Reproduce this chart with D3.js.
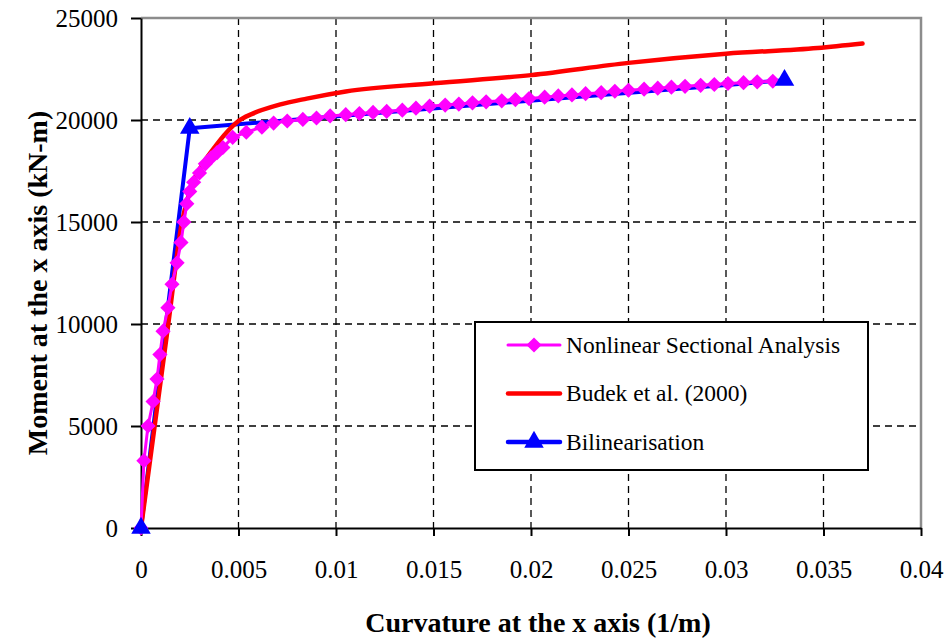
<!DOCTYPE html>
<html>
<head>
<meta charset="utf-8">
<script src="https://cdn.jsdelivr.net/npm/d3@7"></script>
<style>
  html, body { margin: 0; padding: 0; background: #fff; }
  svg { display: block; font-family: "Liberation Serif", "Times New Roman", serif; }
  .grid line { stroke: #000; stroke-width: 1.3; stroke-dasharray: 7 5; }
  .axis text { font-size: 25px; fill: #000; font-family: "Liberation Serif", "Times New Roman", serif; }
  .axis line, .axis path { stroke: #000; stroke-width: 2; }
  .title { font-size: 28px; font-weight: bold; }
  .legend text { font-size: 23.5px; }
</style>
</head>
<body>
<svg id="chart" width="945" height="638"></svg>
<script>
"use strict";

// Nonlinear Sectional Analysis (curvature 1/m, moment kN-m)
var nsaCurv = [0, 0.00015, 0.00036, 0.00062, 0.00082, 0.00097, 0.00113, 0.00138, 0.00159, 0.00185,
  0.00205, 0.0022, 0.00235, 0.0025, 0.0027, 0.0030, 0.0033, 0.0036, 0.0039, 0.0042,
  0.0047, 0.0054, 0.0062, 0.0068, 0.0075, 0.0083, 0.0090, 0.0097, 0.0105, 0.0112,
  0.0119, 0.0126, 0.0134, 0.0141, 0.0148, 0.0156, 0.0163, 0.0170, 0.0177, 0.0185,
  0.0192, 0.0199, 0.0207, 0.0214, 0.0221, 0.0228, 0.0236, 0.0243, 0.0250, 0.0258,
  0.0265, 0.0272, 0.0279, 0.0287, 0.0294, 0.0301, 0.0309, 0.0316, 0.0324];
var nsaMoment = [0, 3300, 5000, 6200, 7300, 8500, 9650, 10800, 11950, 13000,
  14000, 15000, 15900, 16500, 16950, 17400, 17850, 18150, 18400, 18650,
  19150, 19400, 19650, 19850, 19950, 20030, 20100, 20200, 20260, 20320,
  20370, 20420, 20480, 20580, 20680, 20730, 20780, 20840, 20890, 20940,
  21000, 21050, 21120, 21180, 21230, 21290, 21340, 21410, 21460, 21510,
  21560, 21610, 21650, 21700, 21740, 21790, 21830, 21870, 21900];

// Budek et al. (2000)
var budekCurv = [0, 0.0007, 0.0014, 0.0021, 0.0026, 0.0032, 0.0038, 0.0044, 0.0050, 0.0057,
  0.0071, 0.0085, 0.0105, 0.015, 0.02, 0.025, 0.03, 0.0347, 0.037];
var budekMoment = [0, 5000, 10000, 15000, 16800, 17900, 18700, 19400, 19950, 20300,
  20750, 21050, 21400, 21800, 22200, 22800, 23250, 23530, 23750];

// Bilinearisation
var biCurv = [0, 0.0025, 0.033];
var biMoment = [0, 19600, 21950];

var seriesNames = ["Nonlinear Sectional Analysis", "Budek et al. (2000)", "Bilinearisation"];
var seriesColors = ["#ff00ff", "#ff0000", "#0000ff"];

var xTicks = [0, 0.005, 0.01, 0.015, 0.02, 0.025, 0.03, 0.035, 0.04];
var xTickLabels = ["0", "0.005", "0.01", "0.015", "0.02", "0.025", "0.03", "0.035", "0.04"];
var yTicks = [0, 5000, 10000, 15000, 20000, 25000];

var xTitle = "Curvature at the x axis (1/m)";
var yTitle = "Moment at the x axis (kN-m)";

var d3 = window.d3;
var margin = {top: 18, left: 141};
var w = 780, h = 510;

var svg = d3.select("#chart");
var g = svg.append("g").attr("transform", "translate(" + margin.left + "," + margin.top + ")");

var x = d3.scaleLinear().domain([0, 0.04]).range([0, w]);
var y = d3.scaleLinear().domain([0, 25000]).range([h, 0]);

// dashed grid
var grid = g.append("g").classed("grid", true);
grid.selectAll("line.v").data(xTicks.slice(1, -1)).enter()
  .append("line").classed("v", true)
    .attr("x1", d => x(d)).attr("x2", d => x(d))
    .attr("y1", 0).attr("y2", h);
grid.selectAll("line.h").data(yTicks.slice(1, -1)).enter()
  .append("line").classed("h", true)
    .attr("x1", 0).attr("x2", w)
    .attr("y1", d => y(d)).attr("y2", d => y(d));

// plot area border (top / right grey)
g.append("path")
  .attr("d", "M0," + y(25000) + "H" + x(0.04) + "V" + y(0))
  .attr("fill", "none").attr("stroke", "#8c8c8c").attr("stroke-width", 2.5);

// axes
g.append("g").classed("axis", true)
  .attr("transform", "translate(0," + h + ")")
  .call(d3.axisBottom(x).tickValues(xTicks)
    .tickFormat((d, i) => xTickLabels[i])
    .tickSize(8).tickSizeOuter(0).tickPadding(24));

g.append("g").classed("axis", true)
  .call(d3.axisLeft(y).tickValues(yTicks)
    .tickFormat(d3.format("d"))
    .tickSize(10).tickSizeOuter(0).tickPadding(13));

svg.selectAll(".axis").attr("font-size", null).attr("font-family", null);

// series
function pts(xs, ys) { return xs.map((v, i) => [v, ys[i]]); }
var line = d3.line().x(d => x(d[0])).y(d => y(d[1]));
var smooth = d3.line().curve(d3.curveMonotoneX).x(d => x(d[0])).y(d => y(d[1]));

var nsa = pts(nsaCurv, nsaMoment);
var budek = pts(budekCurv, budekMoment);
var bi = pts(biCurv, biMoment);

g.append("path").datum(bi).attr("d", line)
  .attr("fill", "none").attr("stroke", seriesColors[2]).attr("stroke-width", 4)
  .attr("stroke-linejoin", "round");
g.append("path").datum(budek).attr("d", smooth)
  .attr("fill", "none").attr("stroke", seriesColors[1]).attr("stroke-width", 4.5)
  .attr("stroke-linecap", "round");
g.append("path").datum(nsa).attr("d", line)
  .attr("fill", "none").attr("stroke", seriesColors[0]).attr("stroke-width", 3);

var diamond = d3.symbol().type(d3.symbolSquare).size(115);
var triangle = d3.symbol().type(d3.symbolTriangle).size(165);

g.append("g").selectAll("path").data(nsa).enter()
  .append("path")
    .attr("d", diamond)
    .attr("transform", d => "translate(" + x(d[0]) + "," + y(d[1]) + ") rotate(45)")
    .attr("fill", seriesColors[0]);

g.append("g").selectAll("path").data(bi).enter()
  .append("path")
    .attr("d", triangle)
    .attr("transform", d => "translate(" + x(d[0]) + "," + y(d[1]) + ")")
    .attr("fill", seriesColors[2]);

// axis titles
svg.append("text").classed("title", true)
  .attr("x", 538).attr("y", 632)
  .attr("text-anchor", "middle")
  .text(xTitle);
svg.append("text").classed("title", true)
  .attr("transform", "translate(47,283) rotate(-90)")
  .attr("text-anchor", "middle")
  .text(yTitle);

// legend
var lg = svg.append("g").classed("legend", true).attr("transform", "translate(475,322)");
lg.append("rect").attr("width", 393).attr("height", 148)
  .attr("fill", "#fff").attr("stroke", "#000").attr("stroke-width", 2);

var rows = lg.selectAll("g.row").data(seriesNames).enter()
  .append("g").classed("row", true)
  .attr("transform", (d, i) => "translate(0," + (23 + i * 48.5) + ")");

rows.append("line")
  .attr("x1", 33).attr("x2", 85).attr("y1", 0).attr("y2", 0)
  .attr("stroke", (d, i) => seriesColors[i])
  .attr("stroke-width", (d, i) => i === 0 ? 3 : 4.5)
  .attr("stroke-linecap", "round");

rows.filter((d, i) => i === 0).append("path")
  .attr("d", diamond).attr("transform", "translate(59,0) rotate(45)")
  .attr("fill", seriesColors[0]);
rows.filter((d, i) => i === 2).append("path")
  .attr("d", triangle).attr("transform", "translate(59,0)")
  .attr("fill", seriesColors[2]);

rows.append("text")
  .attr("x", 91).attr("y", 0).attr("dy", "0.33em")
  .text(d => d);
</script>
</body>
</html>
